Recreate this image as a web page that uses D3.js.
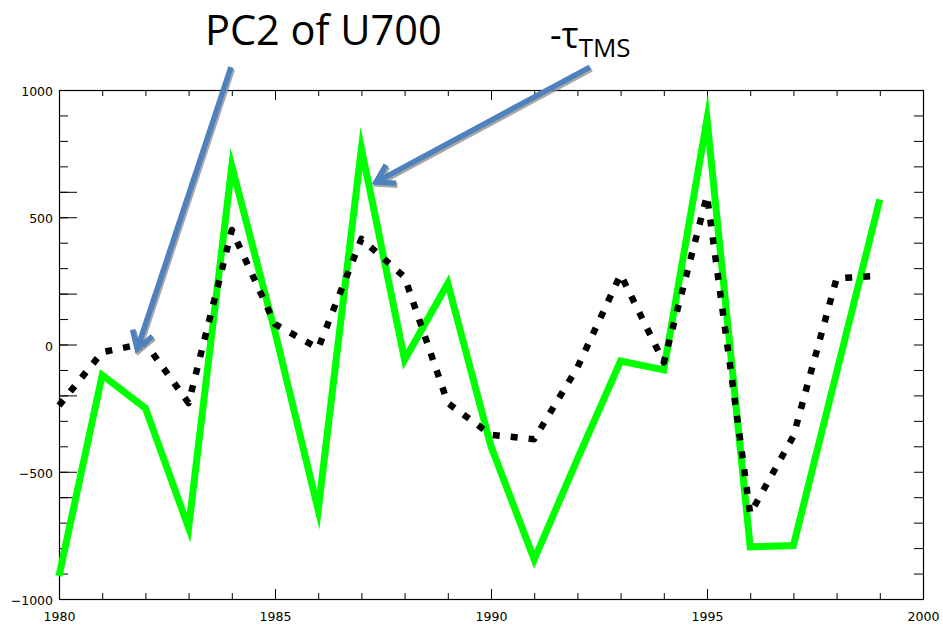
<!DOCTYPE html>
<html>
<head>
<meta charset="utf-8">
<script src="https://cdn.jsdelivr.net/npm/d3@7"></script>
<style>
  html, body { margin: 0; padding: 0; background: #ffffff; }
  svg { display: block; }
  .tick text { font-family: "DejaVu Sans", sans-serif; font-size: 12.5px; fill: #000; }
  .tick line { stroke: #000; stroke-width: 1; }
  .domain { display: none; }
</style>
</head>
<body>
<svg id="chart" width="943" height="628"></svg>
<script>
// Yearly series, 1980-1999
const years = [1980, 1981, 1982, 1983, 1984, 1985, 1986, 1987, 1988, 1989,
               1990, 1991, 1992, 1993, 1994, 1995, 1996, 1997, 1998, 1999];
// -tau_TMS (solid green)
const negTauTMS = [-910, -120, -250, -720, 700, 50, -650, 770, -60, 240,
                   -400, -845, -450, -65, -100, 885, -795, -790, -110, 570];
// PC2 of U700 (dotted black)
const pc2U700 = [-240, -30, 5, -230, 450, 80, -15, 415, 265, -230,
                 -355, -372, -90, 275, -70, 585, -665, -360, 260, 270];

// Axis ticks
const xMajorTicks = [1980, 1985, 1990, 1995, 2000];
const xMinorTicks = [1981, 1982, 1983, 1984, 1986, 1987, 1988, 1989, 1991,
                     1992, 1993, 1994, 1996, 1997, 1998, 1999];
const yLabelTicks = [-1000, -500, 0, 500, 1000];
const yMinorTicks = [-900, -800, -700, -600, -500, -400, -300, -200, -100, 0,
                     100, 200, 300, 400, 500, 600, 700, 800, 900];
const yLongTicks = [-600, -500, -200, 0, 200, 500, 600];

// Callout arrows, in data units: tail (year, value) -> head (year, value)
const callouts = [
  { label: "PC2 of U700", tail: [1983.98, 1090], head: [1981.81, -18] },
  { label: "-tauTMS",     tail: [1992.29, 1090], head: [1987.34, 638] }
];

const svg = d3.select("#chart");
const plot = { left: 59, right: 923, top: 90, bottom: 599 };

const x = d3.scaleLinear().domain([1980, 2000]).range([plot.left, plot.right]);
const y = d3.scaleLinear().domain([-1000, 1000]).range([plot.bottom, plot.top]);

const fmt = v => (v < 0 ? "\u2212" + Math.abs(v) : String(v));

// Bottom axis: minor, then major with labels
svg.append("g").attr("transform", `translate(0,${plot.bottom})`)
  .call(d3.axisBottom(x).tickValues(xMinorTicks).tickSizeInner(-6).tickSizeOuter(0).tickFormat(""));
svg.append("g").attr("transform", `translate(0,${plot.bottom})`)
  .call(d3.axisBottom(x).tickValues(xMajorTicks).tickSizeInner(-10).tickSizeOuter(0)
        .tickPadding(13.5).tickFormat(d3.format("d")));

// Top axis: ticks only
svg.append("g").attr("transform", `translate(0,${plot.top})`)
  .call(d3.axisTop(x).tickValues(xMinorTicks).tickSizeInner(-6).tickSizeOuter(0).tickFormat(""));
svg.append("g").attr("transform", `translate(0,${plot.top})`)
  .call(d3.axisTop(x).tickValues(xMajorTicks).tickSizeInner(-10).tickSizeOuter(0).tickFormat(""));

// Left axis
svg.append("g").attr("transform", `translate(${plot.left},0)`)
  .call(d3.axisLeft(y).tickValues(yMinorTicks).tickSizeInner(-9).tickSizeOuter(0).tickFormat(""));
svg.append("g").attr("transform", `translate(${plot.left},0)`)
  .call(d3.axisLeft(y).tickValues(yLongTicks).tickSizeInner(-18).tickSizeOuter(0).tickFormat(""));
svg.append("g").attr("transform", `translate(${plot.left},0)`)
  .call(d3.axisLeft(y).tickValues(yLabelTicks).tickSizeInner(0).tickSizeOuter(0)
        .tickPadding(6).tickFormat(fmt))
  .selectAll("text").attr("dy", "0.45em");

// Right axis: ticks only
svg.append("g").attr("transform", `translate(${plot.right},0)`)
  .call(d3.axisRight(y).tickValues(yMinorTicks).tickSizeInner(-9).tickSizeOuter(0).tickFormat(""));

// Plot frame
svg.append("rect")
  .attr("x", plot.left + 0.5).attr("y", plot.top + 0.5)
  .attr("width", plot.right - plot.left).attr("height", plot.bottom - plot.top)
  .attr("fill", "none").attr("stroke", "#000").attr("stroke-width", 1.2);

const line = d3.line().x(d => x(d[0])).y(d => y(d[1]));

svg.append("path")
  .datum(years.map((yr, i) => [yr, negTauTMS[i]]))
  .attr("d", line)
  .attr("fill", "none")
  .attr("stroke", "#00ff00")
  .attr("stroke-width", 7)
  .attr("stroke-linejoin", "miter")
  .attr("stroke-miterlimit", 12);

svg.append("path")
  .datum(years.map((yr, i) => [yr, pc2U700[i]]))
  .attr("d", line)
  .attr("fill", "none")
  .attr("stroke", "#000")
  .attr("stroke-width", 6.5)
  .attr("stroke-dasharray", "7,11")
  .attr("stroke-linejoin", "round");

// Titles of the two curves
svg.append("text")
  .attr("x", 205).attr("y", 45)
  .attr("font-family", "'Open Sans', sans-serif")
  .attr("font-size", 41.5)
  .text("PC2 of U700");

const tau = svg.append("text")
  .attr("x", 550).attr("y", 48)
  .attr("font-family", "'Open Sans', sans-serif")
  .attr("font-size", 36);
tau.append("tspan").text("-\u03C4");
tau.append("tspan").attr("dy", 9).attr("font-size", 26).text("TMS");

// Callout arrows with a soft grey drop shadow
function arrowPath(t, h) {
  const x0 = x(t[0]), y0 = y(t[1]), x1 = x(h[0]), y1 = y(h[1]);
  const dx = x1 - x0, dy = y1 - y0, len = Math.hypot(dx, dy);
  const ux = dx / len, uy = dy / len, px = -uy, py = ux;
  const back = 17, spread = 10.5;
  const bx = x1 - ux * back, by = y1 - uy * back;
  return {
    shaft: `M${x0},${y0}L${x1 - ux * 2},${y1 - uy * 2}`,
    head: `M${bx + px * spread},${by + py * spread}L${x1},${y1}L${bx - px * spread},${by - py * spread}`
  };
}

callouts.forEach(c => {
  const p = arrowPath(c.tail, c.head);
  const shadow = svg.append("g").attr("transform", "translate(1.5,2)")
    .attr("stroke", "#8a8a8a").attr("stroke-opacity", 0.75).attr("fill", "none")
    .attr("stroke-width", 5.5).attr("stroke-linejoin", "miter");
  shadow.append("path").attr("d", p.shaft);
  shadow.append("path").attr("d", p.head);
  const g = svg.append("g")
    .attr("stroke", "#4f81bd").attr("fill", "none")
    .attr("stroke-width", 5.5).attr("stroke-linejoin", "miter");
  g.append("path").attr("d", p.shaft);
  g.append("path").attr("d", p.head);
});
</script>
</body>
</html>
